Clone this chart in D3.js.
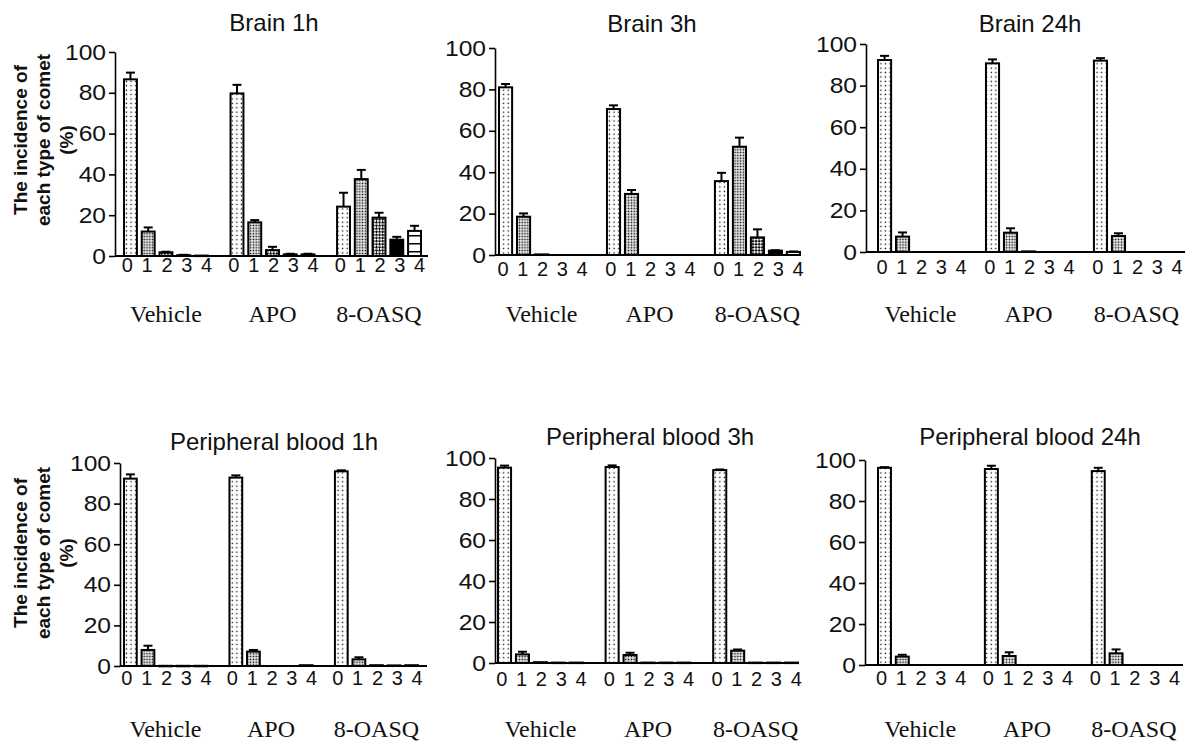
<!DOCTYPE html>
<html>
<head>
<meta charset="utf-8">
<script src="https://cdn.jsdelivr.net/npm/d3@7"></script>
<style>
  html, body { margin: 0; padding: 0; background: #fff; }
  svg { display: block; }
</style>
</head>
<body>
<script>
// ---------------- DATA ----------------
const groups = ["Vehicle", "APO", "8-OASQ"];
const cometTypes = ["0", "1", "2", "3", "4"];
const yTicks = [0, 20, 40, 60, 80, 100];
const panelTitles = ["Brain 1h", "Brain 3h", "Brain 24h",
  "Peripheral blood 1h", "Peripheral blood 3h", "Peripheral blood 24h"];
const yAxisTitle = ["The incidence of", "each type of comet", "(%)"];

// mean values per group (Vehicle, APO, 8-OASQ), per comet type 0..4
const brain1hMean = [[86.6, 12.0, 1.8, 0.4, 0.2], [79.7, 16.5, 2.9, 0.8, 0.8], [24.2, 37.7, 18.8, 8.0, 12.3]];
const brain1hErr  = [[3.3, 2.0, 0.3, 0.2, 0.1], [4.2, 1.1, 1.6, 0.3, 0.3], [6.8, 4.5, 2.4, 1.4, 2.5]];
const brain3hMean = [[81.0, 18.5, 0.3, 0, 0], [70.5, 29.5, 0, 0, 0], [35.7, 52.3, 8.5, 2.1, 1.5]];
const brain3hErr  = [[1.6, 1.6, 0.1, 0, 0], [1.8, 1.9, 0, 0, 0], [4.0, 4.4, 3.9, 0.2, 0.2]];
const brain24hMean = [[92.3, 7.4, 0, 0, 0], [90.7, 9.3, 0.3, 0, 0], [92.0, 7.7, 0, 0, 0]];
const brain24hErr  = [[2.0, 2.0, 0, 0, 0], [1.9, 2.1, 0.1, 0, 0], [1.2, 1.3, 0, 0, 0]];
const blood1hMean = [[92.3, 7.9, 0.1, 0.1, 0.1], [92.8, 7.1, 0, 0, 0.4], [95.9, 3.3, 0.4, 0.3, 0.4]];
const blood1hErr  = [[2.1, 2.1, 0, 0, 0], [1.1, 0.8, 0, 0, 0.1], [0.5, 1.0, 0.1, 0.1, 0.1]];
const blood3hMean = [[95.3, 4.2, 0.4, 0.2, 0.2], [95.6, 3.9, 0.2, 0.2, 0.2], [94.1, 6.0, 0.2, 0.2, 0.2]];
const blood3hErr  = [[1.0, 1.3, 0.1, 0, 0], [0.8, 1.1, 0, 0, 0], [0.3, 0.6, 0, 0, 0]];
const blood24hMean = [[96.2, 4.1, 0, 0, 0], [95.6, 4.4, 0, 0, 0], [94.6, 5.7, 0, 0, 0]];
const blood24hErr  = [[0.3, 0.9, 0, 0, 0], [1.6, 1.8, 0, 0, 0], [1.6, 1.9, 0, 0, 0]];

const panelMeans = [brain1hMean, brain3hMean, brain24hMean, blood1hMean, blood3hMean, blood24hMean];
const panelErrs  = [brain1hErr, brain3hErr, brain24hErr, blood1hErr, blood3hErr, blood24hErr];

// ---------------- LAYOUT ----------------
const layouts = [
  { x0: 115, x1: 428, yTop: 52, yBot: 256, bar0: 123, barEnd: 422, titleX: 274, titleY: 31, digitY: 272, catY: 322 },
  { x0: 495, x1: 801, yTop: 48, yBot: 255, bar0: 498, barEnd: 801, titleX: 652, titleY: 32, digitY: 276, catY: 322 },
  { x0: 866, x1: 1185, yTop: 44, yBot: 252, bar0: 877, barEnd: 1180, titleX: 1030, titleY: 32, digitY: 274, catY: 322 },
  { x0: 120, x1: 427, yTop: 463, yBot: 666, bar0: 123, barEnd: 419, titleX: 274, titleY: 450, digitY: 685, catY: 737 },
  { x0: 495, x1: 799, yTop: 458, yBot: 663, bar0: 497, barEnd: 799, titleX: 650, titleY: 445, digitY: 686, catY: 737 },
  { x0: 865, x1: 1183, yTop: 460, yBot: 665, bar0: 877, barEnd: 1177, titleX: 1030, titleY: 445, digitY: 685, catY: 737 }
];
const yTitlePos = [{ cy: 140 }, null, null, { cy: 553 }, null, null];

const W = 1198, H = 747;
const svg = d3.select("body").append("svg").attr("width", W).attr("height", H)
  .style("font-family", "Arial, 'Liberation Sans', sans-serif");
svg.append("rect").attr("width", W).attr("height", H).attr("fill", "#fff");

// ---------------- PATTERNS ----------------
const defs = svg.append("defs");
// 0: sparse dots
const p0 = defs.append("pattern").attr("id", "pat0").attr("patternUnits", "userSpaceOnUse")
  .attr("width", 4.6).attr("height", 4.4);
p0.append("rect").attr("width", 4.6).attr("height", 4.4).attr("fill", "#fff");
p0.append("rect").attr("x", 1.6).attr("y", 1.5).attr("width", 1.3).attr("height", 1.3).attr("fill", "#000");
// 1: dense dots grid
const p1 = defs.append("pattern").attr("id", "pat1").attr("patternUnits", "userSpaceOnUse")
  .attr("width", 2.8).attr("height", 2.8);
p1.append("rect").attr("width", 2.8).attr("height", 2.8).attr("fill", "#fff");
p1.append("rect").attr("x", 0.6).attr("y", 0.6).attr("width", 1.6).attr("height", 1.6).attr("fill", "#000");
// 2: diagonal checkerboard
const p2 = defs.append("pattern").attr("id", "pat2").attr("patternUnits", "userSpaceOnUse")
  .attr("width", 4.4).attr("height", 4.4).attr("patternTransform", "rotate(45)");
p2.append("rect").attr("width", 4.4).attr("height", 4.4).attr("fill", "#fff");
p2.append("rect").attr("width", 2.2).attr("height", 2.2).attr("fill", "#000");
p2.append("rect").attr("x", 2.2).attr("y", 2.2).attr("width", 2.2).attr("height", 2.2).attr("fill", "#000");
// 4: horizontal lines
const p4 = defs.append("pattern").attr("id", "pat4").attr("patternUnits", "userSpaceOnUse")
  .attr("width", 10).attr("height", 8);
p4.append("rect").attr("width", 10).attr("height", 8).attr("fill", "#fff");
p4.append("rect").attr("y", 3).attr("width", 10).attr("height", 1.5).attr("fill", "#000");
const fills = ["url(#pat0)", "url(#pat1)", "url(#pat2)", "#000", "url(#pat4)"];

// ---------------- PANELS ----------------
panelTitles.forEach((title, pi) => {
  const L = layouts[pi];
  const means = panelMeans[pi], errs = panelErrs[pi];
  const g = svg.append("g");

  const y = d3.scaleLinear().domain([0, 100]).range([L.yBot, L.yTop]);
  const slots = d3.range(groups.length * 6 - 1);
  const x = d3.scaleBand().domain(slots).range([L.bar0, L.barEnd]).paddingInner(0.16).paddingOuter(0);
  const bw = x.bandwidth();

  const rows = [];
  groups.forEach((grp, gi) => cometTypes.forEach((t, ti) => {
    rows.push({ gi, ti, v: means[gi][ti], e: errs[gi][ti], slot: gi * 6 + ti });
  }));

  // error bars
  const eb = g.append("g").attr("stroke", "#000").attr("stroke-width", 2).attr("fill", "none");
  rows.filter(d => d.v > 0 && d.e > 0.15).forEach(d => {
    const cx = x(d.slot) + bw / 2;
    eb.append("line").attr("x1", cx).attr("x2", cx).attr("y1", y(d.v)).attr("y2", y(d.v + d.e));
    eb.append("line").attr("x1", cx - 4.5).attr("x2", cx + 4.5).attr("y1", y(d.v + d.e)).attr("y2", y(d.v + d.e));
  });

  // bars
  g.append("g").selectAll("rect").data(rows.filter(d => d.v > 0)).join("rect")
    .attr("x", d => x(d.slot) + 1)
    .attr("y", d => y(d.v))
    .attr("width", bw - 2)
    .attr("height", d => Math.max(0.5, y(0) - y(d.v)))
    .attr("fill", d => fills[d.ti])
    .attr("stroke", "#000").attr("stroke-width", 2);

  // y axis
  const ya = g.append("g").attr("transform", `translate(${L.x0},0)`)
    .call(d3.axisLeft(y).tickValues(yTicks).tickSize(6).tickSizeOuter(0).tickPadding(2));
  ya.attr("font-size", null).attr("font-family", null);
  ya.select(".domain").attr("stroke", "#000").attr("stroke-width", 1.6);
  ya.selectAll(".tick line").attr("stroke", "#000").attr("stroke-width", 1.6);
  ya.selectAll(".tick text").attr("fill", "#111")
    .attr("font-size", 22).style("font-size", "22px")
    .attr("transform", "scale(1.12,1)")
    .style("font-family", "Arial, 'Liberation Sans', sans-serif");

  // x axis baseline
  g.append("line").attr("x1", L.x0).attr("x2", L.x1).attr("y1", y(0)).attr("y2", y(0))
    .attr("stroke", "#000").attr("stroke-width", 2);

  // comet-type labels
  groups.forEach((grp, gi) => {
    const gc = x(gi * 6 + 2) + bw / 2;
    cometTypes.forEach((t, ti) => {
      g.append("text").attr("x", gc + (ti - 2) * 19.8 + 1).attr("y", L.digitY)
        .attr("text-anchor", "middle").style("font-size", "20px").attr("fill", "#111").text(t);
    });
    g.append("text").attr("x", gc).attr("y", L.catY).attr("text-anchor", "middle")
      .style("font-family", "'Times New Roman', 'Liberation Serif', serif")
      .style("font-size", "24px").attr("fill", "#111").text(grp);
  });

  // title
  g.append("text").attr("x", L.titleX).attr("y", L.titleY).attr("text-anchor", "middle")
    .style("font-size", "24px").attr("fill", "#111").text(title);

  // y axis title
  if (yTitlePos[pi]) {
    const cy = yTitlePos[pi].cy;
    const bx = [27, 50, 73];
    yAxisTitle.forEach((line, li) => {
      g.append("text").attr("transform", `translate(${bx[li]},${cy}) rotate(-90)`)
        .attr("text-anchor", "middle").style("font-size", "19px").style("font-weight", "bold")
        .attr("fill", "#111").text(line);
    });
  }
});
</script>
</body>
</html>
